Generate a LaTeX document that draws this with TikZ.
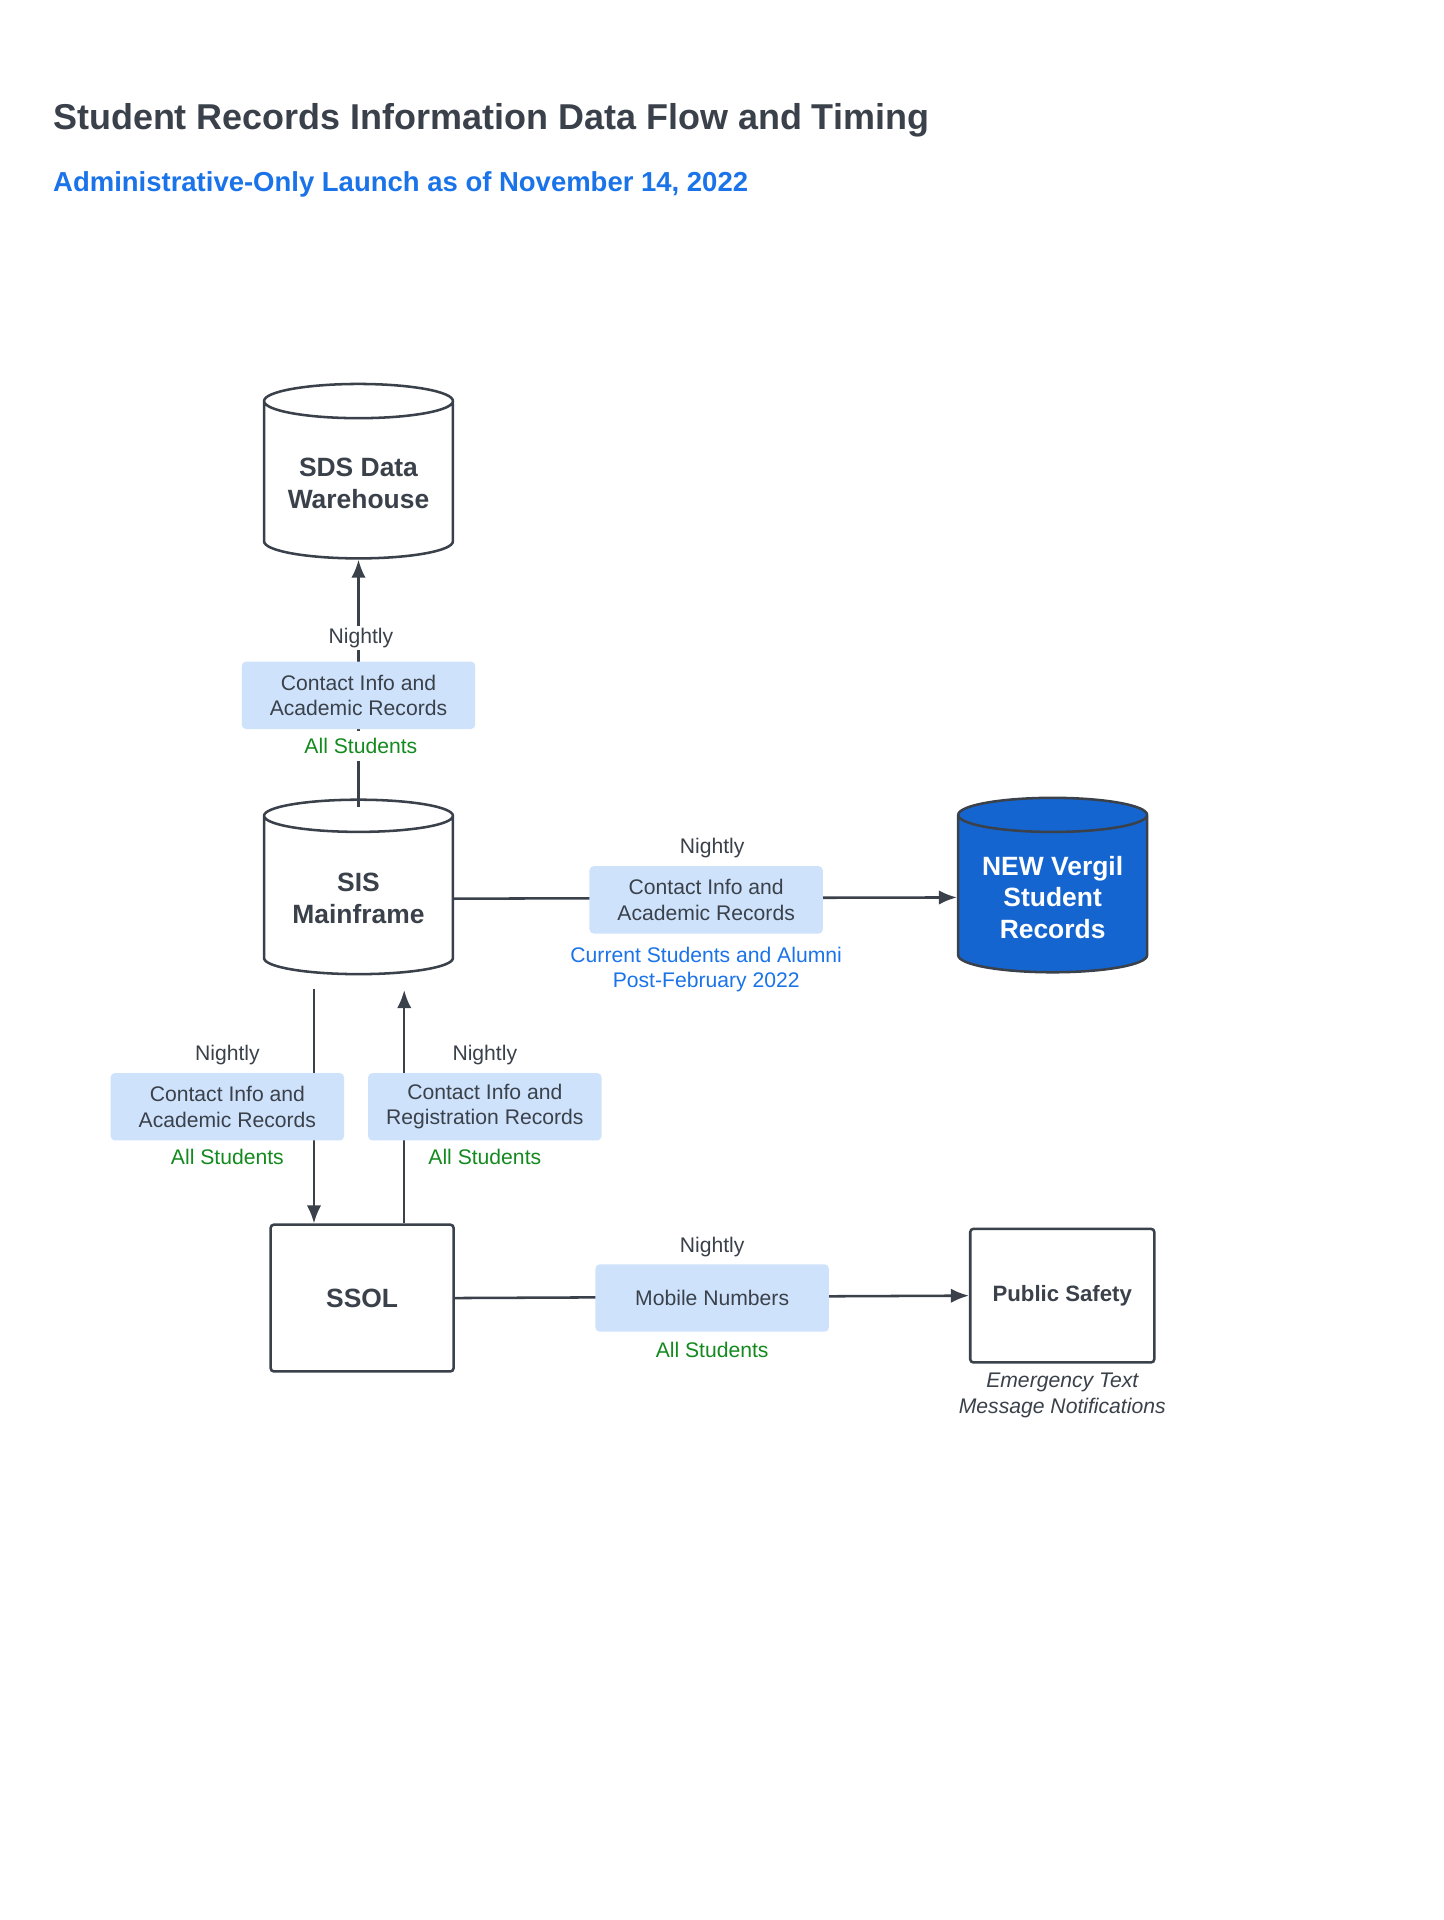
\documentclass[tikz,border=0pt]{standalone}
\usepackage{fontspec}
\setmainfont{Liberation Sans}
\usetikzlibrary{positioning, arrows.meta, shapes.geometric}
\definecolor{ink}{HTML}{3A414A}
\definecolor{tagblue}{HTML}{CFE2FB}
\definecolor{headblue}{HTML}{1A73E8}
\definecolor{okgreen}{HTML}{138A1E}
\definecolor{vergil}{HTML}{1565D0}
\begin{document}
\begin{tikzpicture}[
        x=0.2mm, y=-0.2mm,
        flow/.style={draw=ink, line width=1.2pt},
        arrow/.style={flow, -{Latex[length=3mm, width=2.4mm]}},
        store/.style={cylinder, shape border rotate=90, aspect=0.22, draw=ink, line width=1.2pt, minimum width=3.14cm, minimum height=2.9cm, align=center, font=\fontsize{12.5}{15}\selectfont\bfseries, text=ink},
        system/.style={rectangle, rounded corners=1.5pt, draw=ink, line width=1.2pt, align=center, font=\bfseries, text=ink},
        tag/.style={rectangle, rounded corners=2pt, fill=tagblue, minimum width=3.88cm, minimum height=1.12cm, align=center, font=\fontsize{10}{12}\selectfont, text=ink},
        when/.style={font=\fontsize{10}{12}\selectfont, text=ink},
        who/.style={font=\fontsize{10}{12}\selectfont, text=okgreen, align=center}
    ]
    \useasboundingbox[fill=white] (0,0) rectangle (1200,1596);

    \node[anchor=west, font=\fontsize{17}{20}\selectfont\bfseries, text=ink] (title) at (38,100) {Student Records Information Data Flow and Timing};
    \node[anchor=west, font=\fontsize{13}{16}\selectfont\bfseries, text=headblue] (subtitle) at (38,153) {Administrative-Only Launch as of November 14, 2022};

    % data stores
    \node[store] (sds) at (298,402) {SDS Data\\Warehouse};
    \node[store] (sis) at (298,747) {SIS\\Mainframe};
    \node[store, fill=vergil, draw=ink, text=white] (vergil) at (875,746) {NEW Vergil\\Student\\Records};

    % systems
    \node[system, minimum width=3.04cm, minimum height=2.44cm, font=\fontsize{12.5}{15}\selectfont\bfseries] (ssol) at (301,1079) {SSOL};
    \node[system, minimum width=3.06cm, minimum height=2.22cm, font=\fontsize{10.5}{13}\selectfont\bfseries] (safety) at (883,1077) {Public Safety};
    \node[below=1pt of safety, align=center, font=\fontsize{10}{12}\selectfont\itshape, text=ink] (safetynote) {Emergency Text\\Message Notifications};

    % SIS -> SDS
    \coordinate (sisTop) at (298,671);
    \draw[arrow] (sisTop) -- (sds.south);
    \node[tag] (sdsTag) at (298,578) {Contact Info and\\Academic Records};
    \node[when, fill=white, inner sep=1pt] (sdsWhen) at (300,530) {Nightly};
    \node[who, fill=white] (sdsWho) at (300,620) {All Students};

    % SIS -> Vergil
    \draw[arrow] (sis.east) -- (vergil.west);
    \node[tag] (vergilTag) at (587,748) {Contact Info and\\Academic Records};
    \node[when] (vergilWhen) at (592,705) {Nightly};
    \node[who, text=headblue] (vergilWho) at (587,806) {Current Students and Alumni\\Post-February 2022};

    % SIS <-> SSOL
    \coordinate (sisDown) at (261,822);
    \coordinate (ssolIn) at (261,1017);
    \coordinate (ssolOut) at (336,1017);
    \coordinate (sisUp) at (336,823);
    \draw[arrow] (sisDown) -- (ssolIn);
    \draw[arrow] (ssolOut) -- (sisUp);
    \node[tag] (downTag) at (189,920) {Contact Info and\\Academic Records};
    \node[when, fill=white, inner sep=1pt] (downWhen) at (189,877) {Nightly};
    \node[who, fill=white, inner sep=1pt] (downWho) at (189,962) {All Students};
    \node[tag] (upTag) at (403,920) {Contact Info and\\Registration Records};
    \node[when, fill=white, inner sep=1pt] (upWhen) at (403,877) {Nightly};
    \node[who, fill=white, inner sep=1pt] (upWho) at (403,962) {All Students};

    % SSOL -> Public Safety
    \draw[arrow] (ssol.east) -- (safety.west);
    \node[tag] (safetyTag) at (592,1079) {Mobile Numbers};
    \node[when] (safetyWhen) at (592,1037) {Nightly};
    \node[who] (safetyWho) at (592,1122) {All Students};
\end{tikzpicture}
\end{document}
